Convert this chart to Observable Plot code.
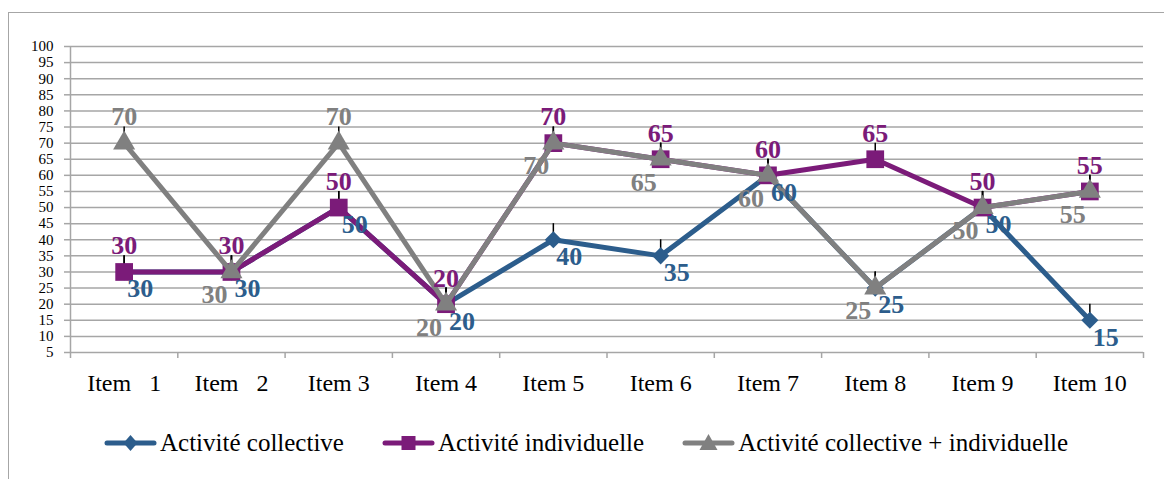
<!DOCTYPE html>
<html><head><meta charset="utf-8">
<script src="https://cdn.jsdelivr.net/npm/d3@7"></script>
<script src="https://cdn.jsdelivr.net/npm/@observablehq/plot@0.6"></script>
<style>
html,body{margin:0;padding:0;background:#fff;overflow:hidden;width:1164px;height:479px;}
#frame{position:absolute;left:8px;top:12px;width:1200px;height:500px;border-left:1.5px solid #a6a6a6;border-top:1.5px solid #a6a6a6;}
#chart{position:absolute;left:0;top:0;}
#legend{position:absolute;left:104px;top:428px;height:30px;display:flex;align-items:center;font-family:"Liberation Serif","Times New Roman",serif;font-size:25px;color:#000;white-space:nowrap;}
.item{display:flex;align-items:center;margin-right:38px;}
.item svg{margin-right:3px;}
</style></head><body>
<div id="frame"></div>
<div id="chart"></div>
<div id="legend"></div>
<script>
// ---- data ----
const items = ["Item\u00a0\u00a0\u00a01", "Item\u00a0\u00a0\u00a02", "Item 3", "Item 4", "Item 5", "Item 6", "Item 7", "Item 8", "Item 9", "Item 10"];
const collective = [30, 30, 50, 20, 40, 35, 60, 25, 50, 15];
const individual = [30, 30, 50, 20, 70, 65, 60, 65, 50, 55];
const combined   = [70, 30, 70, 20, 70, 65, 60, 25, 50, 55];
const seriesNames = ["Activité collective", "Activité individuelle", "Activité collective + individuelle"];
const yTicks = [5, 10, 15, 20, 25, 30, 35, 40, 45, 50, 55, 60, 65, 70, 75, 80, 85, 90, 95, 100];
const errorPlus = 5;

// ---- styles ----
const colors = ["#2C5D8C", "#7B1B79", "#808080"];
const symbols = ["diamond2", "square", "triangle"];
const radii = [7.7, 10, 8.2];
const font = '"Liberation Serif","Times New Roman",serif';

const n = items.length;
const xDomain = [0.5, n + 0.5];
const positions = items.map((_, i) => i + 1);
const boundaries = d3.range(n + 1).map(i => i + 0.5);

const allValues = [collective, individual, combined];
const rows = allValues.map((vals, s) => vals.map((v, i) => ({x: i + 1, y: v, s, other: individual[i]})));

const marks = [
  Plot.gridY(yTicks, {stroke: "#a6a6a6", strokeOpacity: 1, strokeWidth: 1.5}),
  Plot.ruleX([xDomain[0]], {stroke: "#a6a6a6", strokeWidth: 1.5}),
  Plot.axisY(yTicks, {tickSize: 6, tickPadding: 11, fontSize: 15, stroke: "#a6a6a6", strokeWidth: 1.5, fill: "black", label: null}),
  Plot.axisX(boundaries, {tickSize: 6, tickFormat: () => "", stroke: "#a6a6a6", strokeWidth: 1.5, label: null}),
  Plot.axisX(positions, {tickSize: 0, tickPadding: 21, fontSize: 24, fill: "black", tickFormat: i => items[i - 1], label: null})
];

rows.forEach((r, s) => {
  marks.push(Plot.line(r, {x: "x", y: "y", stroke: colors[s], strokeWidth: 5, strokeLinejoin: "round"}));
  marks.push(Plot.ruleX(r, {x: "x", y1: "y", y2: d => d.y + errorPlus, stroke: "black", strokeWidth: 1.5}));
  marks.push(Plot.dot(r, {x: "x", y: "y", symbol: symbols[s], r: radii[s], fill: colors[s], stroke: "none"}));
});

// labels
marks.push(Plot.text(rows[0], {x: "x", y: "y", text: d => String(d.y), fill: colors[0], fontSize: 26, fontWeight: "bold", textAnchor: "start", dx: 3, dy: 17}));
marks.push(Plot.text(rows[1], {x: "x", y: "y", text: d => String(d.y), fill: colors[1], fontSize: 26, fontWeight: "bold", dy: -26}));
marks.push(Plot.text(rows[2].filter(d => d.y > d.other), {x: "x", y: "y", text: d => String(d.y), fill: colors[2], fontSize: 26, fontWeight: "bold", dy: -26}));
marks.push(Plot.text(rows[2].filter(d => d.y <= d.other), {x: "x", y: "y", text: d => String(d.y), fill: colors[2], fontSize: 26, fontWeight: "bold", textAnchor: "end", dx: -4, dy: 23}));

const chart = Plot.plot({
  width: 1164,
  height: 410,
  marginLeft: 70,
  marginRight: 21,
  marginTop: 46,
  marginBottom: 58,
  x: {domain: xDomain},
  y: {domain: [5, 100]},
  style: {fontFamily: font, background: "transparent", overflow: "visible", color: "black"},
  marks
});
document.getElementById("chart").appendChild(chart);

// legend
const legend = document.getElementById("legend");
const shapes = [
  c => `<path d="M26.5,3 L33.5,11 L26.5,19 L19.5,11 Z" fill="${c}"/>`,
  c => `<rect x="19.5" y="4" width="14" height="14" fill="${c}"/>`,
  c => `<path d="M26.5,2 L35.5,18 L17.5,18 Z" fill="${c}"/>`
];
seriesNames.forEach((name, s) => {
  const div = document.createElement("div");
  div.className = "item";
  div.innerHTML = `<svg width="53" height="22"><line x1="3" x2="50" y1="11" y2="11" stroke="${colors[s]}" stroke-width="5" stroke-linecap="round"/>${shapes[s](colors[s])}</svg><span>${name}</span>`;
  legend.appendChild(div);
});
</script>
</body></html>
